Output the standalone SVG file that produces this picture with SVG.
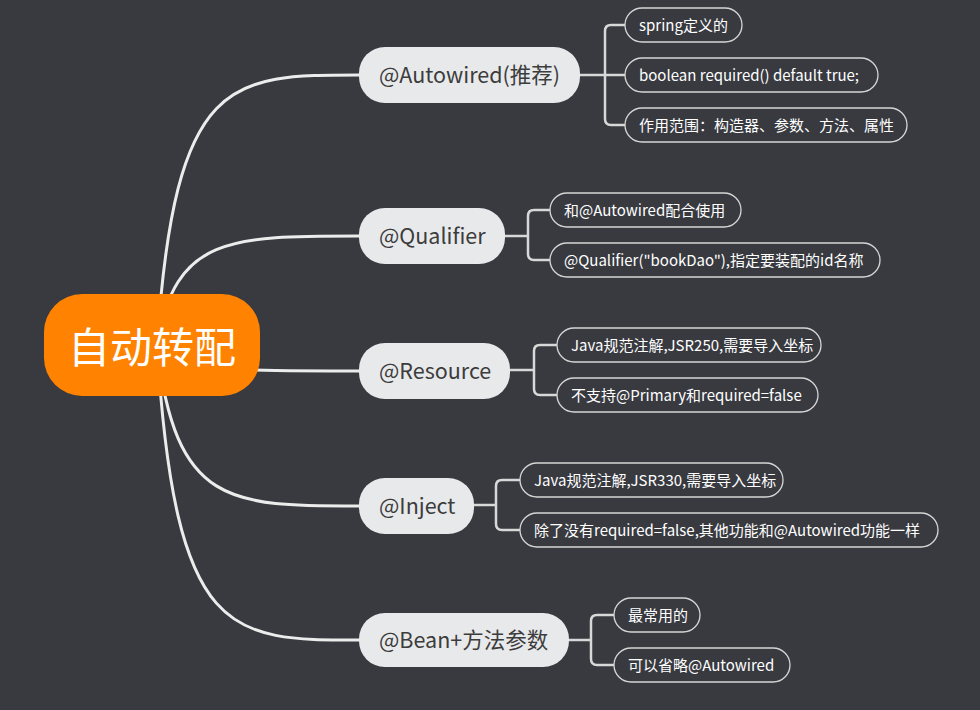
<svg xmlns="http://www.w3.org/2000/svg" width="980" height="710" viewBox="0 0 980 710">
<style>
.bg{fill:#383a3f}
.curve{fill:none;stroke:#ececec;stroke-width:3;stroke-linecap:round}
.br{fill:none;stroke:#d8d8d8;stroke-width:2.5}
.l1 rect{fill:#e8e9eb}
.l1 text{font-family:"Noto Sans CJK SC","Microsoft YaHei",sans-serif;font-size:21.5px;fill:#3c3c3c}
.l2 rect{fill:#383a3f;stroke:#d6d6d6;stroke-width:1.3}
.l2 text{font-family:"Noto Sans CJK SC",sans-serif;font-size:15px;fill:#ffffff}
</style>
<rect class="bg" x="0" y="0" width="980" height="710"/>
<g id="connectors">
<path class="curve" d="M157,345 C175,75 230,75 359,75"/>
<path class="curve" d="M157,345 C175,236 230,236 359,236"/>
<path class="curve" d="M157,345 C175,371 230,371 359,371"/>
<path class="curve" d="M157,345 C175,506 230,506 359,506"/>
<path class="curve" d="M157,345 C175,640 230,640 359,640"/>
<path class="br" d="M580,75 H625 M605,75 V31 Q605,25 611,25 H625 M605,75 V119 Q605,125 611,125 H625"/>
<path class="br" d="M505,236 H528 V216 Q528,210 534,210 H550 M528,236 V254 Q528,260 534,260 H550"/>
<path class="br" d="M510,370 H534 V351 Q534,345 540,345 H557 M534,370 V389 Q534,395 540,395 H557"/>
<path class="br" d="M474,505 H496 V486 Q496,480 502,480 H520 M496,505 V524 Q496,530 502,530 H520"/>
<path class="br" d="M569,640 H591 V621 Q591,615 597,615 H614 M591,640 V659 Q591,665 597,665 H614"/>
</g>
<g id="root">
<rect x="44" y="294" width="216" height="102" rx="38" fill="#ff8200"/>
<text x="152" y="363" font-family="Noto Sans CJK SC,sans-serif" font-size="42" fill="#ffffff" text-anchor="middle">自动转配</text>
</g>
<g id="n-autowired" class="l1"><rect x="359" y="47" width="221" height="56" rx="26"/><text x="379" y="82.5">@Autowired(推荐)</text></g>
<g id="n-qualifier" class="l1"><rect x="359" y="208" width="146" height="56" rx="26"/><text x="379" y="243.5">@Qualifier</text></g>
<g id="n-resource" class="l1"><rect x="359" y="343" width="151" height="56" rx="26"/><text x="379" y="378.5">@Resource</text></g>
<g id="n-inject" class="l1"><rect x="359" y="478" width="115" height="56" rx="26"/><text x="379" y="513.5">@Inject</text></g>
<g id="n-bean" class="l1"><rect x="359" y="613" width="210" height="54" rx="26"/><text x="379" y="647.5">@Bean+方法参数</text></g>
<g id="c1" class="l2"><rect x="625" y="8" width="117" height="34" rx="17"/><text x="639" y="30.5">spring定义的</text></g>
<g id="c2" class="l2"><rect x="625" y="58" width="253" height="34" rx="17"/><text x="639" y="80.5">boolean required() default true;</text></g>
<g id="c3" class="l2"><rect x="625" y="108" width="282" height="34" rx="17"/><text x="639" y="130.5">作用范围：构造器、参数、方法、属性</text></g>
<g id="c4" class="l2"><rect x="550" y="193" width="191" height="34" rx="17"/><text x="564" y="215.5">和@Autowired配合使用</text></g>
<g id="c5" class="l2"><rect x="550" y="243" width="330" height="34" rx="17"/><text x="564" y="265.5">@Qualifier("bookDao"),指定要装配的id名称</text></g>
<g id="c6" class="l2"><rect x="557" y="328" width="264" height="34" rx="17"/><text x="571" y="350.5">Java规范注解,JSR250,需要导入坐标</text></g>
<g id="c7" class="l2"><rect x="557" y="378" width="261" height="34" rx="17"/><text x="571" y="400.5">不支持@Primary和required=false</text></g>
<g id="c8" class="l2"><rect x="520" y="463" width="263" height="34" rx="17"/><text x="534" y="485.5">Java规范注解,JSR330,需要导入坐标</text></g>
<g id="c9" class="l2"><rect x="520" y="513" width="418" height="34" rx="17"/><text x="534" y="535.5">除了没有required=false,其他功能和@Autowired功能一样</text></g>
<g id="c10" class="l2"><rect x="614" y="598" width="86" height="34" rx="17"/><text x="628" y="620.5">最常用的</text></g>
<g id="c11" class="l2"><rect x="614" y="648" width="176" height="34" rx="17"/><text x="628" y="670.5">可以省略@Autowired</text></g>
</svg>
